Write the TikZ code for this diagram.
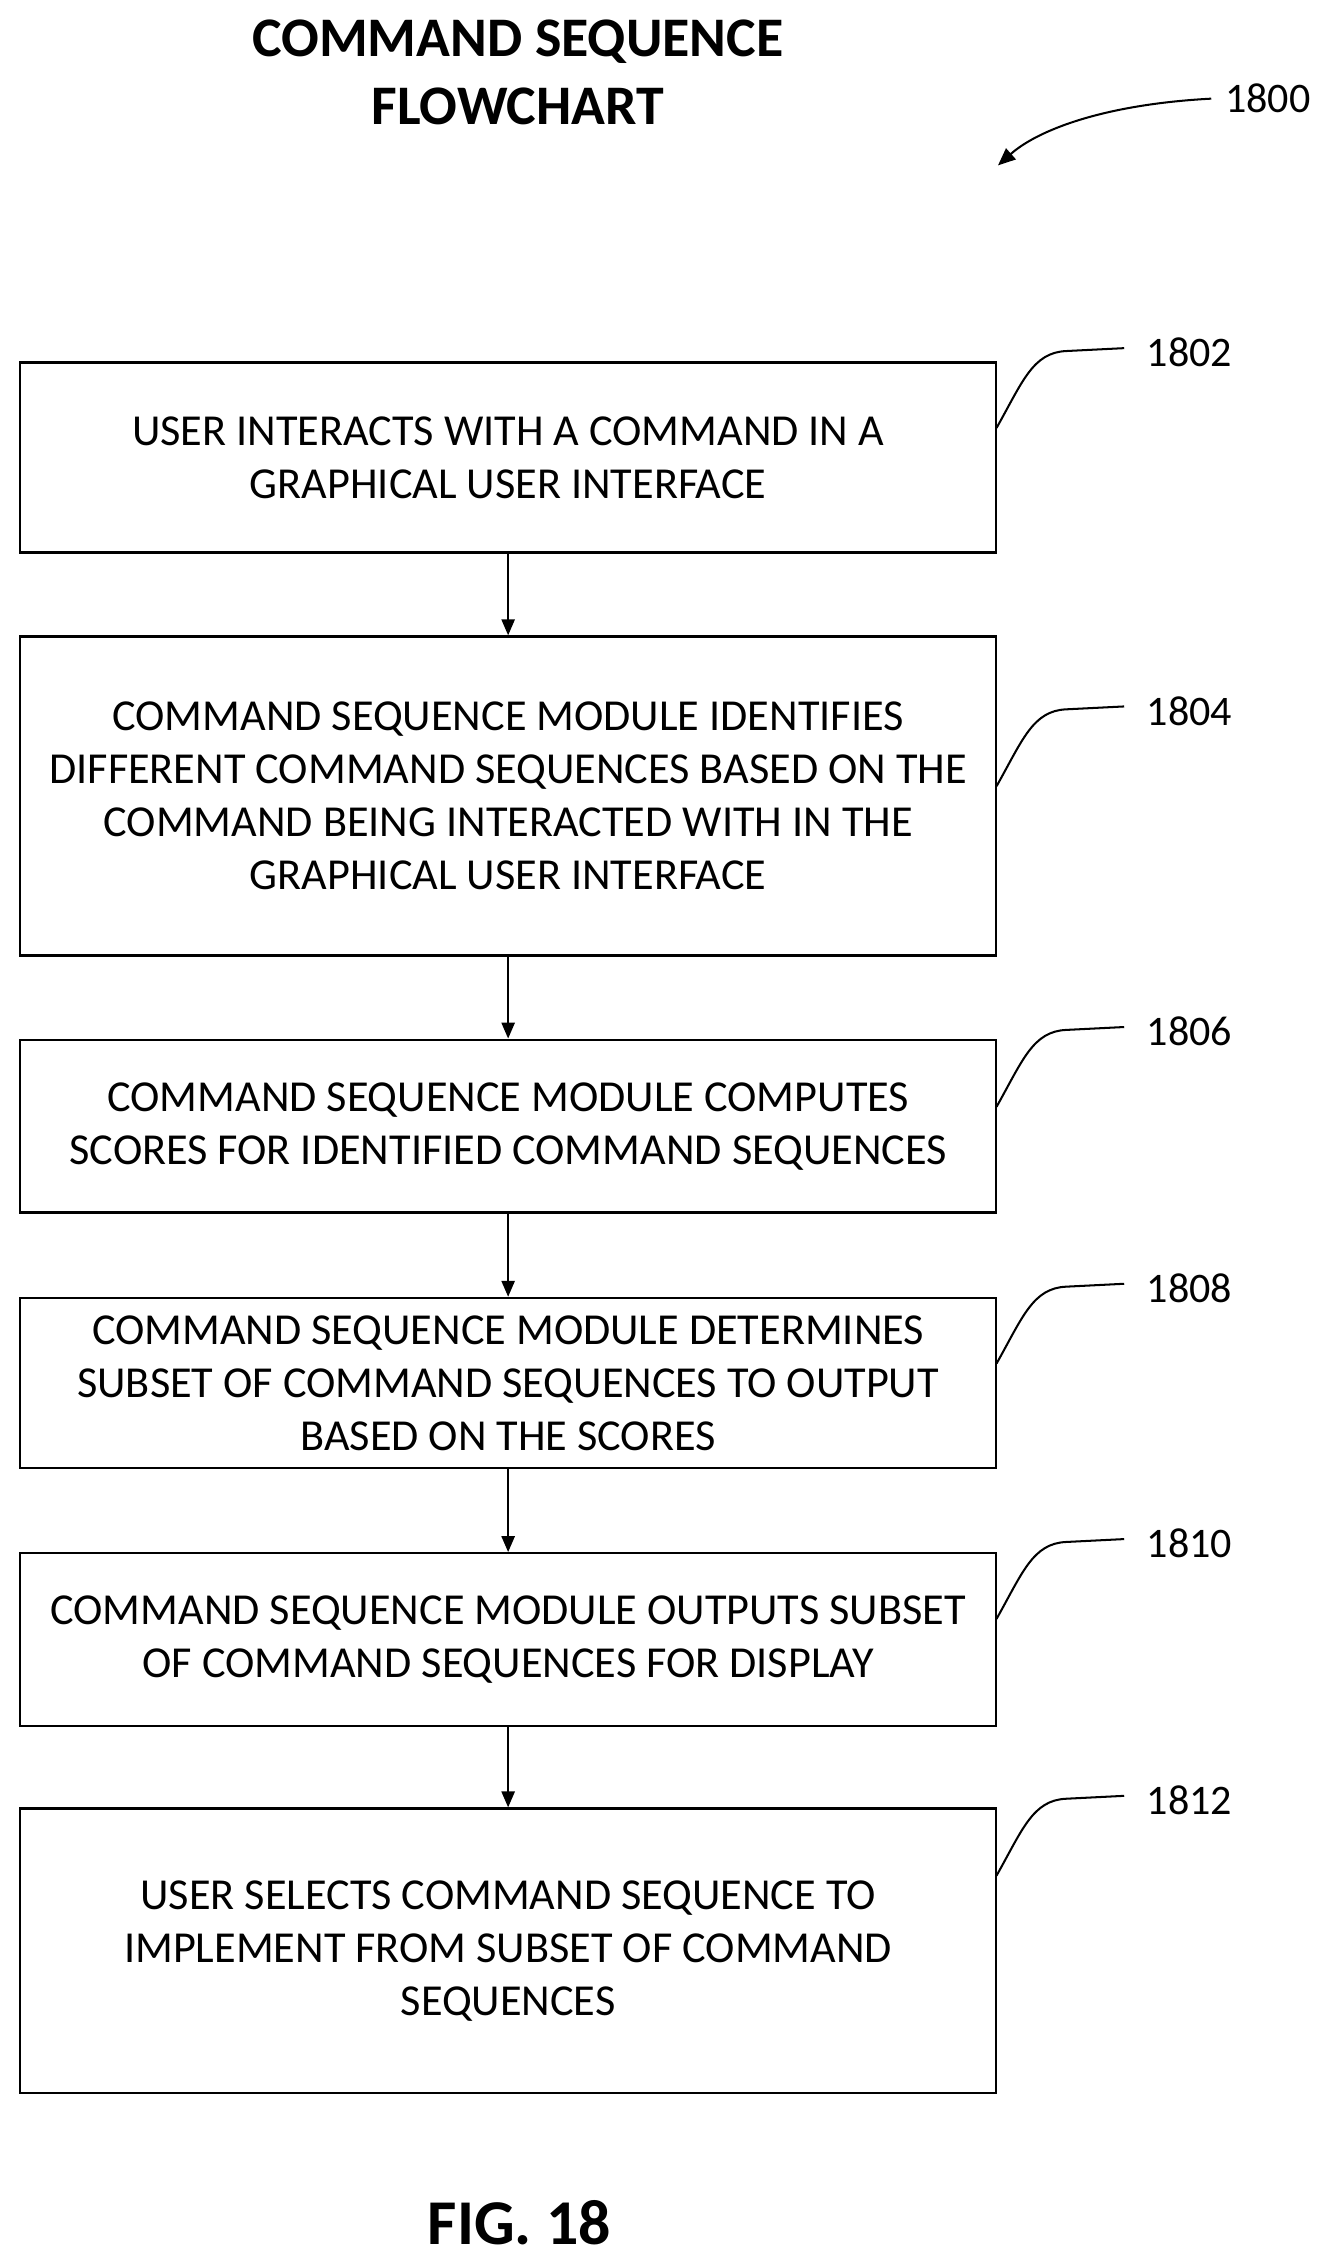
\documentclass[tikz,border=0pt]{standalone}
\usepackage{fontspec}
\setmainfont{Carlito}
\usetikzlibrary{arrows.meta}
\begin{document}
\begin{tikzpicture}[x=1pt,y=-1pt,
 box/.style={draw,line width=1.6pt,minimum width=673pt,anchor=north west,align=center,font=\fontsize{30.5}{36.5}\selectfont,inner sep=0pt},
 arr/.style={-{Triangle[length=11pt,width=9pt]},line width=1.6pt},
 lbl/.style={font=\fontsize{29}{32}\selectfont},
 sq/.style={line width=1.4pt}]
\useasboundingbox (0,0) rectangle (917,1558);
\node[font=\bfseries\fontsize{38.5}{47}\selectfont,align=center] (title) at (357,50) {COMMAND SEQUENCE\\FLOWCHART};
\node[lbl] (l1800) at (874,68) {1800};
\coordinate (a1800) at (688,114);
\draw[sq,-{Triangle[length=12pt,width=10pt]}] (835,68) .. controls (760,72) and (715,90) .. (a1800);
\node[box,minimum height=131pt] (b1) at (13,249) {USER INTERACTS WITH A COMMAND IN A\\GRAPHICAL USER INTERFACE};
\node[box,minimum height=220pt] (b2) at (13,438) {COMMAND SEQUENCE MODULE IDENTIFIES\\DIFFERENT COMMAND SEQUENCES BASED ON THE\\COMMAND BEING INTERACTED WITH IN THE\\GRAPHICAL USER INTERFACE};
\node[box,minimum height=119pt] (b3) at (13,716) {COMMAND SEQUENCE MODULE COMPUTES\\SCORES FOR IDENTIFIED COMMAND SEQUENCES};
\node[box,minimum height=117pt] (b4) at (13,894) {COMMAND SEQUENCE MODULE DETERMINES\\SUBSET OF COMMAND SEQUENCES TO OUTPUT\\BASED ON THE SCORES};
\node[box,minimum height=119pt] (b5) at (13,1070) {COMMAND SEQUENCE MODULE OUTPUTS SUBSET\\OF COMMAND SEQUENCES FOR DISPLAY};
\node[box,minimum height=196pt] (b6) at (13,1246) {USER SELECTS COMMAND SEQUENCE TO\\IMPLEMENT FROM SUBSET OF COMMAND\\SEQUENCES};
\foreach \a/\b in {b1/b2,b2/b3,b3/b4,b4/b5,b5/b6} \draw[arr] (\a.south) -- (\b.north);
\foreach \n/\y in {1802/243,1804/490,1806/711,1808/888,1810/1064,1812/1241}{
  \node[lbl] (l\n) at (820,\y) {\n};
  \draw[sq] (687,\y+52) .. controls (705,\y+20) and (712,\y) .. (735,\y-1) -- (775,\y-3);
}
\node[font=\bfseries\fontsize{44}{50}\selectfont] (fig) at (358,1532) {FIG. 18};
\end{tikzpicture}
\end{document}
